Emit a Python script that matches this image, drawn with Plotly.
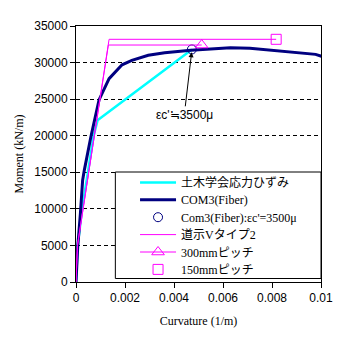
import plotly.graph_objects as go

# --- data ---
jsce_x = [0, 0.00007, 0.00025, 0.00047, 0.00072, 0.00088, 0.00473]
jsce_y = [0, 5000, 10000, 15000, 20000, 22100, 31800]

com3_x = [0, 0.00007, 0.00018, 0.00027, 0.00034, 0.00061, 0.00094, 0.00135, 0.00188,
          0.00228, 0.00295, 0.00362, 0.00469, 0.00563, 0.0063, 0.0071, 0.0083,
          0.00925, 0.00978, 0.0102]
com3_y = [0, 4800, 9400, 13900, 15300, 19900, 24900, 27800, 29700,
          30300, 31000, 31350, 31700, 31950, 32030, 31950, 31620,
          31260, 31120, 30660]

pt3500_x = [0.00473]
pt3500_y = [31800]

doshi_x = [0, 0.00006, 0.00135, 0.00817, None, 0, 0.00006, 0.00132, 0.00513]
doshi_y = [0, 5000, 33180, 33180, None, 0, 5000, 32400, 32400]

p300_x = [0.00513]
p300_y = [32400]
p150_x = [0.00817]
p150_y = [33180]

x_ticks = [0, 0.002, 0.004, 0.006, 0.008, 0.01]
x_ticktext = ["0", "0.002", "0.004", "0.006", "0.008", "0.01"]
y_ticks = [0, 5000, 10000, 15000, 20000, 25000, 30000, 35000]

serif = "Liberation Serif, Noto Sans CJK JP, serif"
sans = "Liberation Sans, Noto Sans CJK JP, sans-serif"

fig = go.Figure()
fig.add_trace(go.Scatter(x=jsce_x, y=jsce_y, mode="lines", name="土木学会応力ひずみ",
                         legend="legend",
                         line=dict(color="#00FFFF", width=2.5)))
fig.add_trace(go.Scatter(x=com3_x, y=com3_y, mode="lines", name="COM3(Fiber)",
                         legend="legend2",
                         line=dict(color="#000080", width=3)))
fig.add_trace(go.Scatter(x=pt3500_x, y=pt3500_y, mode="markers", name="Com3(Fiber):εc'=3500μ",
                         legend="legend3",
                         marker=dict(symbol="circle-open", color="#000080", size=9,
                                     line=dict(width=1, color="#000080"))))
fig.add_trace(go.Scatter(x=doshi_x, y=doshi_y, mode="lines", name="道示Vタイプ2",
                         legend="legend4",
                         line=dict(color="#FF00FF", width=1)))
fig.add_trace(go.Scatter(x=p300_x, y=p300_y, mode="lines+markers", name="300mmピッチ",
                         legend="legend5",
                         line=dict(color="#FF00FF", width=1),
                         marker=dict(symbol="triangle-up-open", color="#FF00FF", size=11,
                                     line=dict(width=1, color="#FF00FF"))))
fig.add_trace(go.Scatter(x=p150_x, y=p150_y, mode="markers", name="150mmピッチ",
                         legend="legend6",
                         marker=dict(symbol="square-open", color="#FF00FF", size=10,
                                     line=dict(width=1, color="#FF00FF"))))

W = H = 345
L, R, T, B = 76, 20, 26, 63

def px(xp):
    return (xp - L) / (W - L - R)

def py(yp):
    return 1 - (yp - T) / (H - T - B)

fig.add_shape(type="rect", xref="paper", yref="paper",
              x0=px(116), x1=px(325), y0=py(278.5), y1=py(172),
              fillcolor="white", line=dict(color="black", width=1), layer="above")

fig.add_annotation(x=0.00472, y=31400, ax=0.00442, ay=22860, axref="x", ayref="y",
                   xref="x", yref="y", text="εc'≒3500μ", showarrow=True,
                   arrowhead=2, arrowsize=1, arrowwidth=1, arrowcolor="black",
                   font=dict(family=sans, size=12, color="black"))

row_centers = [182.5, 199.8, 217.2, 234.6, 252.0, 269.4]
legend_font = dict(family=serif, size=12, color="black")
legend_layouts = {}
for i, yc in enumerate(row_centers):
    key = "legend" if i == 0 else f"legend{i + 1}"
    legend_layouts[key] = dict(x=px(136), y=py(yc - 14.5), xanchor="left", yanchor="top",
                               bgcolor="rgba(0,0,0,0)", borderwidth=0, itemwidth=36,
                               font=legend_font)

fig.update_layout(
    width=W, height=H,
    margin=dict(l=L, r=R, t=T, b=B),
    paper_bgcolor="white", plot_bgcolor="white",
    showlegend=True,
    xaxis=dict(range=[0, 0.01], tickvals=x_ticks, ticktext=x_ticktext,
               showgrid=False, zeroline=False, showline=True, linecolor="black",
               linewidth=1, mirror=True, ticks="outside", ticklen=5, tickcolor="black",
               tickfont=dict(family=sans, size=12, color="black"),
               title=dict(text="Curvature (1/m)", font=dict(family=serif, size=12, color="black"),
                          standoff=12)),
    yaxis=dict(range=[0, 35000], tickvals=y_ticks, tickformat="d",
               showgrid=True, gridcolor="black", griddash="4px,3px", gridwidth=1,
               zeroline=False, showline=True, linecolor="black",
               linewidth=1, mirror=True, ticks="outside", ticklen=5, tickcolor="black",
               tickfont=dict(family=sans, size=12, color="black"),
               title=dict(text="Moment (kN/m)", font=dict(family=serif, size=12, color="black"),
                          standoff=8)),
    **legend_layouts,
)

fig.write_html("out.html")
